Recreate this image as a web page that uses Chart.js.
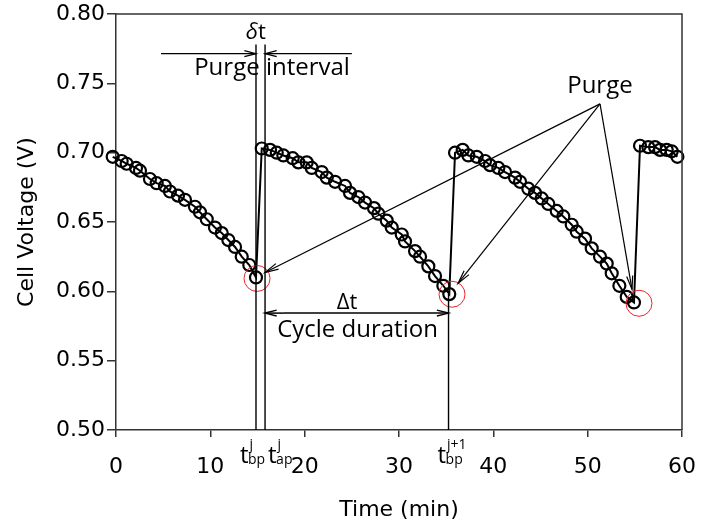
<!DOCTYPE html>
<html>
<head>
<meta charset="utf-8">
<script src="https://cdn.jsdelivr.net/npm/chart.js@4"></script>
<style>
  body { margin: 0; background: #fff; }
</style>
</head>
<body>
<canvas id="myChart" width="715" height="526"></canvas>
<script>
// time (min) and cell voltage (V), one pair of arrays per purge cycle
var cycle1Time = [-0.35, 0.60, 1.13, 2.12, 2.54, 3.60, 4.31, 5.19, 5.72, 6.57, 7.31, 8.37, 8.90, 9.62, 10.49, 11.21, 11.91, 12.62, 13.33, 14.13, 14.84];
var cycle1Volt = [0.697, 0.694, 0.692, 0.689, 0.687, 0.681, 0.678, 0.676, 0.672, 0.669, 0.666, 0.661, 0.657, 0.652, 0.646, 0.642, 0.637, 0.632, 0.625, 0.619, 0.610];
var cycle2Time = [15.45, 16.33, 17.04, 17.74, 18.73, 19.33, 20.22, 20.75, 21.81, 22.34, 23.22, 24.28, 24.81, 25.69, 26.40, 27.35, 27.81, 28.70, 29.23, 30.29, 30.64, 31.70, 32.23, 33.11, 33.82, 34.70, 35.33];
var cycle2Volt = [0.703, 0.702, 0.700, 0.698, 0.696, 0.693, 0.693, 0.689, 0.686, 0.682, 0.679, 0.676, 0.671, 0.668, 0.664, 0.660, 0.656, 0.651, 0.646, 0.641, 0.636, 0.629, 0.625, 0.618, 0.611, 0.604, 0.598];
var cycle3Time = [35.94, 36.75, 37.35, 38.24, 39.12, 39.65, 40.53, 41.24, 42.30, 42.83, 43.71, 44.42, 45.13, 45.83, 46.72, 47.42, 48.31, 48.84, 49.72, 50.43, 51.31, 52.02, 52.55, 53.36, 54.14, 54.91];
var cycle3Volt = [0.700, 0.702, 0.698, 0.697, 0.694, 0.691, 0.689, 0.686, 0.682, 0.679, 0.674, 0.671, 0.667, 0.663, 0.658, 0.654, 0.648, 0.643, 0.638, 0.631, 0.625, 0.620, 0.613, 0.604, 0.596, 0.592];
var cycle4Time = [55.55, 56.43, 57.14, 57.67, 58.38, 58.91, 59.51];
var cycle4Volt = [0.705, 0.704, 0.704, 0.702, 0.702, 0.701, 0.697];

// red rings around the voltage minima just before each purge
var purgeRingTime = [14.95, 35.62, 55.44];
var purgeRingVolt = [0.6093, 0.5979, 0.5914];

// annotation anchors (data units)
var tBp1 = 14.84, tAp1 = 15.8, tBp2 = 35.25;
var xTicks = [0, 10, 20, 30, 40, 50, 60];
var yTicks = [0.50, 0.55, 0.60, 0.65, 0.70, 0.75, 0.80];

function toPoints(ts, vs) {
    return ts.map(function (t, i) { return { x: t, y: vs[i] }; });
}

var allPoints = []
    .concat(toPoints(cycle1Time, cycle1Volt))
    .concat(toPoints(cycle2Time, cycle2Volt))
    .concat(toPoints(cycle3Time, cycle3Volt))
    .concat(toPoints(cycle4Time, cycle4Volt));

function arrowHead(ctx, x, y, ang, len, spread) {
    ctx.beginPath();
    ctx.moveTo(x - len * Math.cos(ang - spread), y - len * Math.sin(ang - spread));
    ctx.lineTo(x, y);
    ctx.lineTo(x - len * Math.cos(ang + spread), y - len * Math.sin(ang + spread));
    ctx.stroke();
}

function arrow(ctx, x1, y1, x2, y2, len, spread) {
    ctx.beginPath();
    ctx.moveTo(x1, y1);
    ctx.lineTo(x2, y2);
    ctx.stroke();
    arrowHead(ctx, x2, y2, Math.atan2(y2 - y1, x2 - x1), len, spread);
}

function tLabel(ctx, x, base, sup, sub) {
    ctx.textAlign = 'left';
    ctx.textBaseline = 'alphabetic';
    ctx.font = '24px "Open Sans"';
    ctx.fillText('t', x, base);
    var w = ctx.measureText('t').width;
    ctx.font = '14px "Open Sans"';
    ctx.fillText(sub, x + w - 0.5, base + 1);
    ctx.fillText(sup, x + w + 1, base - 14);
}

var annotations = {
    id: 'annotations',
    afterDatasetsDraw: function (chart) {
        var ctx = chart.ctx, a = chart.chartArea;
        var xs = chart.scales.x, ys = chart.scales.y;
        var X = function (v) { return xs.getPixelForValue(v); };
        var Y = function (v) { return ys.getPixelForValue(v); };
        var axisY = Y(0.5);
        ctx.save();

        // top and right frame
        ctx.strokeStyle = '#333';
        ctx.lineWidth = 1.5;
        ctx.beginPath();
        ctx.moveTo(a.left, a.top);
        ctx.lineTo(a.right, a.top);
        ctx.lineTo(a.right, a.bottom);
        ctx.stroke();

        ctx.strokeStyle = '#000';
        ctx.fillStyle = '#000';

        // vertical markers
        ctx.lineWidth = 1.4;
        ctx.beginPath();
        ctx.moveTo(X(tBp1), Y(0.778)); ctx.lineTo(X(tBp1), axisY);
        ctx.moveTo(X(tAp1), Y(0.778)); ctx.lineTo(X(tAp1), axisY);
        ctx.moveTo(X(tBp2), Y(0.5981)); ctx.lineTo(X(tBp2), axisY);
        ctx.stroke();

        // purge interval arrows
        ctx.lineWidth = 1.2;
        arrow(ctx, X(4.77), Y(0.7714), X(tBp1), Y(0.7714), 12, 0.25);
        arrow(ctx, X(25.0), Y(0.7714), X(tAp1), Y(0.7714), 12, 0.25);

        // delta t
        ctx.textBaseline = 'alphabetic';
        ctx.textAlign = 'right';
        ctx.font = 'italic 22px "Open Sans"';
        ctx.fillText('\u03b4', X(15.05), Y(0.7821));
        ctx.textAlign = 'left';
        ctx.font = '22px "Open Sans"';
        ctx.fillText('t', X(15.05), Y(0.7821));

        ctx.textAlign = 'center';
        ctx.font = '24px "Open Sans"';
        ctx.fillText('Purge interval', X(16.54), Y(0.7559));

        // cycle duration
        ctx.lineWidth = 1.5;
        arrow(ctx, X(tAp1 + 2), Y(0.5843), X(tAp1), Y(0.5843), 12, 0.25);
        arrow(ctx, X(tAp1 + 2), Y(0.5843), X(tBp2), Y(0.5843), 12, 0.25);
        ctx.font = '22px "Open Sans"';
        ctx.fillText('\u0394t', X(24.5), Y(0.5871));
        ctx.font = '24px "Open Sans"';
        ctx.fillText('Cycle duration', X(25.6), Y(0.5668));

        // purge arrows
        ctx.fillText('Purge', X(51.3), Y(0.7429));
        ctx.lineWidth = 1.2;
        arrow(ctx, X(51.31), Y(0.7352), X(15.8), Y(0.6136), 14, 0.22);
        arrow(ctx, X(51.31), Y(0.7352), X(36.26), Y(0.6057), 14, 0.22);
        arrow(ctx, X(51.31), Y(0.7352), X(54.7), Y(0.6014), 14, 0.22);

        // time labels under the axis
        var base = axisY + 33;
        tLabel(ctx, X(tBp1) - 16, base, 'j', 'bp');
        tLabel(ctx, X(tAp1) + 3, base, 'j', 'ap');
        tLabel(ctx, X(tBp2) - 11, base, 'j+1', 'bp');

        ctx.restore();
    }
};

function loadChart() {
    var ctx = document.getElementById('myChart').getContext('2d');

    new Chart(ctx, {
        type: 'scatter',
        data: {
            datasets: [{
                data: allPoints,
                showLine: true,
                clip: false,
                borderColor: '#000',
                borderWidth: 2,
                pointStyle: 'circle',
                pointRadius: 6,
                pointBorderWidth: 2.2,
                pointBorderColor: '#000',
                pointBackgroundColor: 'rgba(0,0,0,0)',
                order: 2
            }, {
                data: toPoints(purgeRingTime, purgeRingVolt),
                showLine: false,
                clip: false,
                pointRadius: 13,
                pointBorderWidth: 1,
                pointBorderColor: '#e8262a',
                pointBackgroundColor: 'rgba(0,0,0,0)',
                order: 1
            }]
        },
        options: {
            responsive: false,
            animation: false,
            layout: { padding: { left: 0, top: 10, right: 33, bottom: 0 } },
            scales: {
                x: {
                    type: 'linear',
                    min: 0,
                    max: 60,
                    afterFit: function (s) { s.height = 96; s.paddingLeft = 0; s.paddingRight = 0; },
                    afterBuildTicks: function (s) { s.ticks = xTicks.map(function (v) { return { value: v }; }); },
                    border: { color: '#333', width: 1.5 },
                    grid: { drawOnChartArea: false, tickLength: 7, color: '#333', lineWidth: 1.5 },
                    ticks: {
                        color: '#000',
                        padding: 17,
                        maxRotation: 0,
                        font: { family: '"DejaVu Sans"', size: 22 }
                    },
                    title: {
                        display: true,
                        text: 'Time (min)',
                        color: '#000',
                        padding: { top: 0, bottom: 3 },
                        font: { family: '"DejaVu Sans"', size: 22 }
                    }
                },
                y: {
                    min: 0.5,
                    max: 0.8,
                    afterFit: function (s) { s.width = 116; s.paddingTop = 0; s.paddingBottom = 0; },
                    afterBuildTicks: function (s) { s.ticks = yTicks.map(function (v) { return { value: v }; }); },
                    border: { color: '#333', width: 1.5 },
                    grid: { drawOnChartArea: false, tickLength: 9, color: '#333', lineWidth: 1.5 },
                    ticks: {
                        color: '#000',
                        padding: 2,
                        font: { family: '"DejaVu Sans"', size: 22 },
                        callback: function (v) { return v.toFixed(2); }
                    },
                    title: {
                        display: true,
                        text: 'Cell Voltage (V)',
                        color: '#000',
                        padding: { top: 14, bottom: 0 },
                        font: { family: '"DejaVu Sans"', size: 22 }
                    }
                }
            },
            plugins: {
                legend: { display: false },
                tooltip: { enabled: false }
            }
        },
        plugins: [annotations]
    });
}

loadChart();
</script>
</body>
</html>
